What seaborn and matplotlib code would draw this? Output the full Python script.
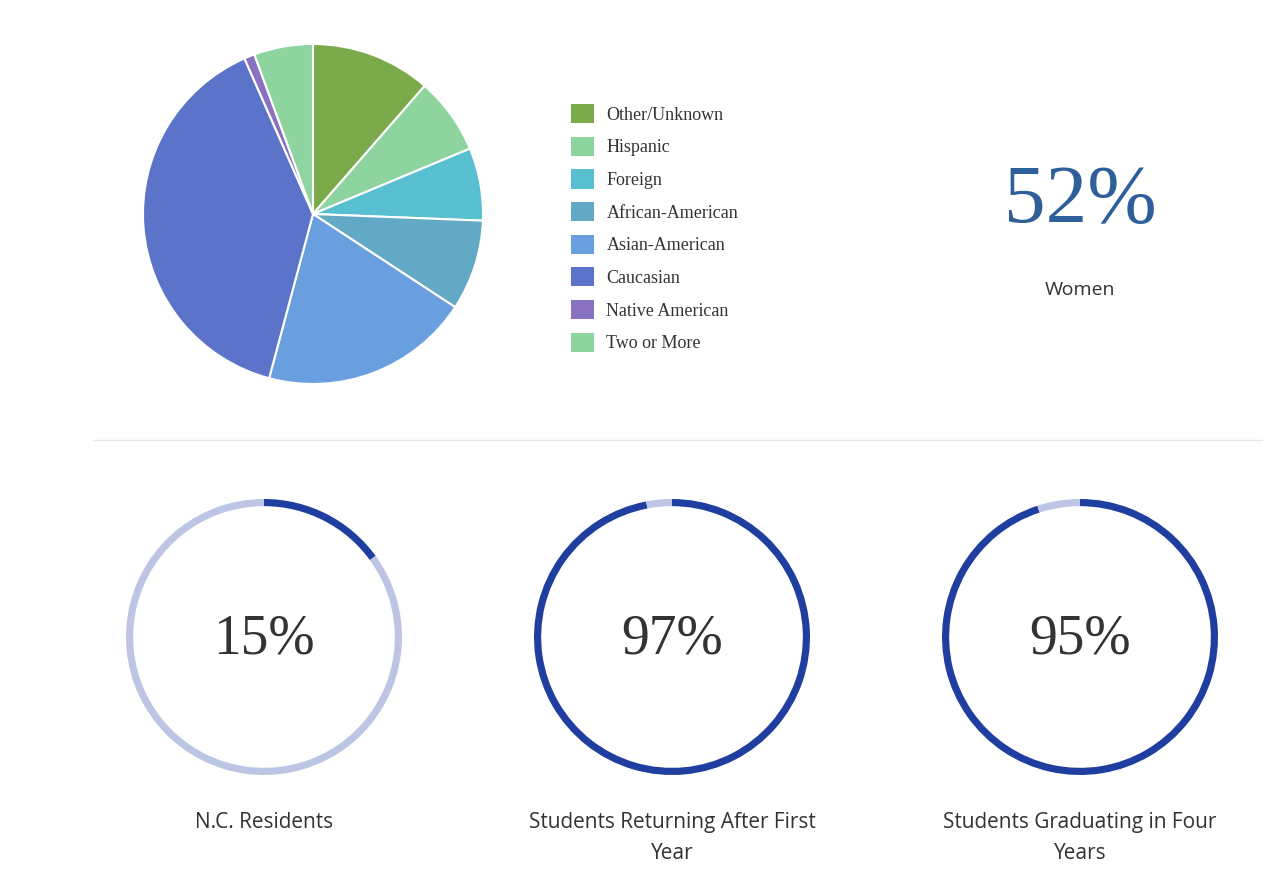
import matplotlib
matplotlib.use("Agg")
import matplotlib.pyplot as plt
from matplotlib.patches import Patch
import seaborn as sns

sns.set_theme(style="white")

categories = ["Other/Unknown", "Hispanic", "Foreign", "African-American",
              "Asian-American", "Caucasian", "Native American", "Two or More"]
shares = [11.4, 7.3, 6.9, 8.6, 19.9, 39.2, 1.0, 5.6]
colors = ["#7aaa4a", "#8dd49f", "#57bfcf", "#62a9c6", "#6a9fdf", "#5b74c9", "#8a72c2", "#8dd49f"]

women_pct = 52
ring_labels = ["N.C. Residents", "Students Returning After First\nYear", "Students Graduating in Four\nYears"]
ring_values = [15, 97, 95]

W, H = 1280, 890
fig = plt.figure(figsize=(W / 100, H / 100), dpi=100)
fig.patch.set_facecolor("white")

def box(cx, cy, r):
    return [(cx - r) / W, 1 - (cy + r) / H, 2 * r / W, 2 * r / H]

# Pie
ax = fig.add_axes(box(313, 214, 170))
ax.pie(shares, colors=colors, startangle=90, counterclock=False, radius=1,
       wedgeprops=dict(edgecolor="white", linewidth=1.5))
ax.set_xlim(-1, 1); ax.set_ylim(-1, 1)
ax.set_aspect("equal")

handles = [Patch(facecolor=c, edgecolor="none") for c in colors]
fig.legend(handles, categories, loc="upper left", bbox_to_anchor=(555 / W, 1 - 88 / H),
           frameon=False, prop={"family": "Liberation Serif", "size": 13},
           labelspacing=0.72, handlelength=1.25, handleheight=1.25, handletextpad=0.7,
           labelcolor="#333333")

fig.text(1080 / W, 1 - 202 / H, f"{women_pct}%", ha="center", va="center",
         fontsize=60, color="#2f5f9a", family="Liberation Serif")
fig.text(1080 / W, 1 - 290 / H, "Women", ha="center", va="center",
         fontsize=14, color="#333333", family="Open Sans")

fig.add_artist(plt.Line2D([93 / W, 1262 / W], [1 - 440 / H] * 2, color="#e6e6e6", lw=1))

dark, light = "#1f3ea0", "#bcc5e3"
for cx, lab, val in zip([264, 672, 1080], ring_labels, ring_values):
    a = fig.add_axes(box(cx, 637, 138))
    a.pie([val, 100 - val], colors=[dark, light], startangle=90, counterclock=False, radius=1,
          wedgeprops=dict(width=0.052, edgecolor="none"))
    a.set_xlim(-1, 1); a.set_ylim(-1, 1)
    a.set_aspect("equal")
    a.text(0, -0.02, f"{val}%", ha="center", va="center", fontsize=40,
           color="#333333", family="Liberation Serif")
    fig.text(cx / W, 1 - 812 / H, lab, ha="center", va="top", fontsize=15,
             color="#333333", family="Open Sans", linespacing=1.6)

fig.savefig("out.png", dpi=100, facecolor="white")
